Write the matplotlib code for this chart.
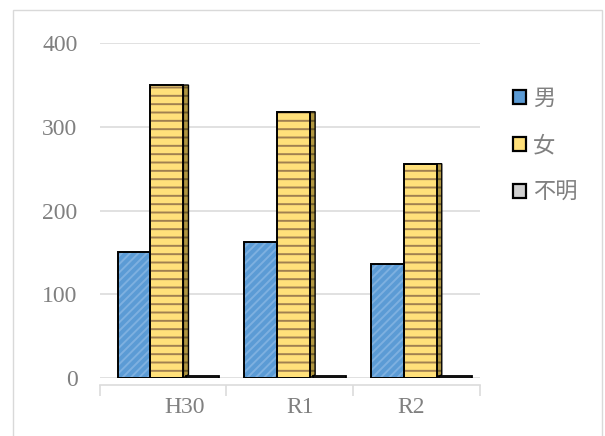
import matplotlib
matplotlib.use("Agg")
import matplotlib.pyplot as plt
from matplotlib.patches import Polygon, Rectangle, Patch
import numpy as np

plt.rcParams['font.family'] = ['Liberation Serif', 'Noto Sans CJK JP']
plt.rcParams['hatch.linewidth'] = 1.4

categories = ["H30", "R1", "R2"]
series_names = ["男", "女", "不明"]
male = [150, 163, 136]
female = [350, 318, 256]
unknown = [3, 2, 2]
y_ticks = [0, 100, 200, 300, 400]

fig = plt.figure(figsize=(6.05, 4.36), dpi=100)
fig.patches.append(Rectangle((0.021, -0.01), 0.974, 0.987, transform=fig.transFigure,
                             fill=False, edgecolor="#d9d9d9", linewidth=1.0))
ax = fig.add_axes([0.165, 0.133, 0.628, 0.768])

x = np.arange(len(categories))
w = 0.26
grid_c = "#dcdcdc"
text_c = "#808080"


def hatched_bars(xpos, vals, width, face, hatch, hcolor, z=3):
    # fill + hatch pattern, then a black outline on top
    ax.bar(xpos, vals, width, color=face, edgecolor=hcolor, linewidth=0,
           hatch=hatch, zorder=z)
    ax.bar(xpos, vals, width, fill=False, edgecolor="black", linewidth=1.4,
           zorder=z + 0.1)


for t in y_ticks:
    ax.axhline(t, color=grid_c, linewidth=1.2, zorder=0)

hatched_bars(x - w + 0.03, male, w, "#5b9bd5", "////", "#7eb0e0")
hatched_bars(x + 0.03, female, w, "#ffe07a", "--", "#a08050")

# side face of the yellow columns
dx, dy = 0.04, 4
for xi, v in zip(x, female):
    xr = xi + 0.03 + w / 2
    pts = [(xr, 0), (xr + dx, dy), (xr + dx, v), (xr, v)]
    ax.add_patch(Polygon(pts, closed=True, facecolor="#b09640", edgecolor="#6b5a2a",
                         linewidth=0, hatch="--", zorder=2))
    ax.add_patch(Polygon(pts, closed=True, fill=False, edgecolor="black",
                         linewidth=1.0, zorder=2.1))

ax.bar(x + w + 0.05, unknown, w, color="#a6a6a6", edgecolor="black",
       linewidth=1.3, zorder=3)

ax.set_xlim(-0.5, 2.5)
ax.set_ylim(0, 400)
ax.set_yticks(y_ticks)
ax.set_yticklabels([str(t) for t in y_ticks])
ax.set_xticks(x + np.array([0.17, 0.08, -0.04]))
ax.set_xticklabels(categories)
ax.set_xticks([-0.5, 0.5, 1.5, 2.5], minor=True)
ax.tick_params(axis="x", which="major", length=0, pad=9, labelsize=17, labelcolor=text_c)
ax.tick_params(axis="x", which="minor", length=8, color=grid_c, width=1.2, direction="out")
ax.tick_params(axis="y", length=0, pad=16, labelsize=17, labelcolor=text_c)
for s in ["top", "right", "left"]:
    ax.spines[s].set_visible(False)
ax.spines["bottom"].set_color(grid_c)
ax.spines["bottom"].set_linewidth(1.2)
ax.spines["bottom"].set_position(("outward", 5))

handles = [
    Patch(facecolor="#5b9bd5", edgecolor="black", linewidth=1.6),
    Patch(facecolor="#ffe07a", edgecolor="black", linewidth=1.6),
    Patch(facecolor="#d0d0d0", edgecolor="black", linewidth=1.6),
]
fig.legend(handles, series_names, loc="upper left", bbox_to_anchor=(0.815, 0.84),
           frameon=False, fontsize=16, labelcolor=text_c, handlelength=0.6,
           handleheight=0.6, handletextpad=0.3, labelspacing=1.2)

fig.savefig("out.png", dpi=100)
